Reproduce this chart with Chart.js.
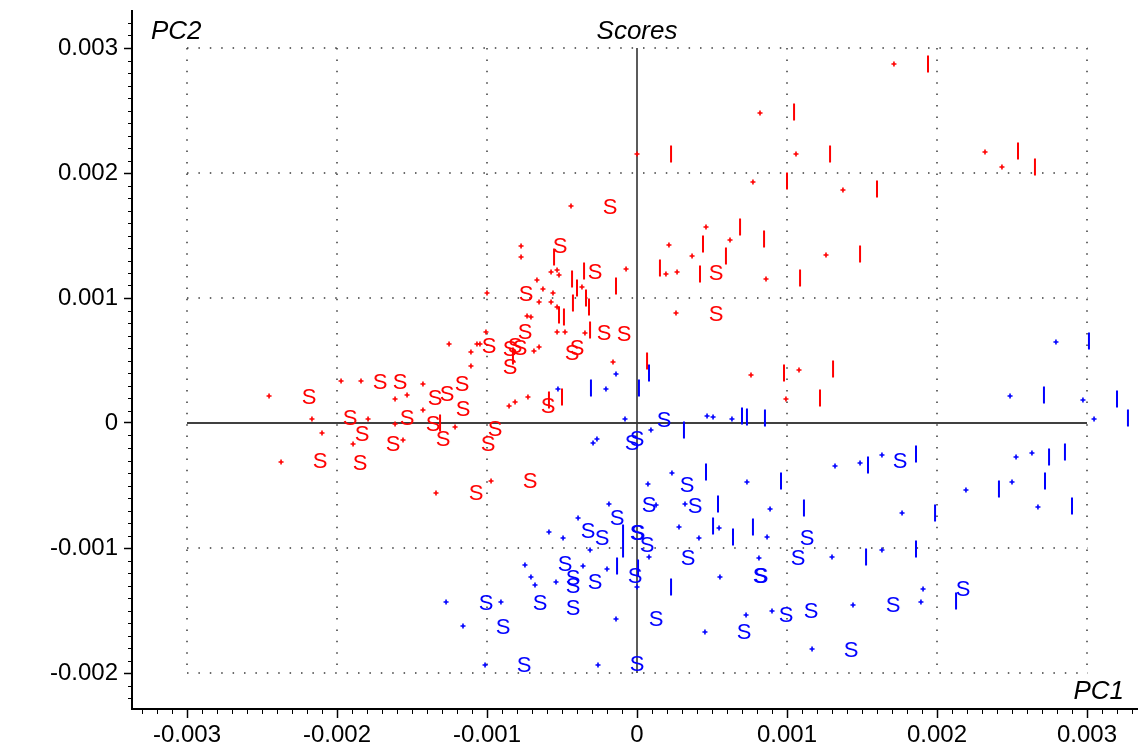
<!DOCTYPE html>
<html>
<head>
<meta charset="utf-8">
<title>Scores</title>
<script src="https://cdn.jsdelivr.net/npm/chart.js"></script>
<style>
  html, body { margin: 0; padding: 0; background: #ffffff; overflow: hidden; }
  #wrap { position: relative; width: 1138px; height: 749px; overflow: hidden; }
  #scores { display: block; }
</style>
</head>
<body>
<div id="wrap"><canvas id="scores"></canvas></div>
<script>
// axis ticks (PC1 along x, PC2 along y)
var xTicks = [-0.003, -0.002, -0.001, 0, 0.001, 0.002, 0.003];
var yTicks = [-0.002, -0.001, 0, 0.001, 0.002, 0.003];

// red group, "+" samples
var redPlus = [
  [0, 0.002152], [0.001713, 0.002872], [0.00082, 0.00248], [0.00106, 0.002152],
  [0.00232, 0.002168], [0.002433, 0.002048], [0.000773, 0.001928], [0.001373, 0.001864],
  [0.00046, 0.001568], [0.00062, 0.001464], [0.000213, 0.001424], [0.000367, 0.001336],
  [0.000193, 0.001192], [0.000267, 0.001208], [0.00086, 0.001152], [0.00126, 0.001344],
  [0.00026, 0.00088], [0.00076, 0.000384], [0.00108, 0.000424], [0.000993, 0.000192],
  [-0.00044, 0.001736], [-0.000773, 0.001416], [-0.000773, 0.001328], [-0.000573, 0.001208],
  [-0.000533, 0.001224], [-0.00052, 0.001184], [-0.000367, 0.001088], [-0.000073, 0.001232],
  [-0.000667, 0.001144], [-0.000627, 0.001072], [-0.00056, 0.00104], [-0.000653, 0.000968],
  [-0.000573, 0.000968], [-0.001, 0.00104], [-0.000533, 0.000928], [-0.000733, 0.000856],
  [-0.000707, 0.000848], [-0.000533, 0.000728], [-0.00048, 0.000728], [-0.000347, 0.00072],
  [-0.001007, 0.000728], [-0.001253, 0.000632], [-0.001067, 0.000632], [-0.001047, 0.000632],
  [-0.001107, 0.000568], [-0.000687, 0.000576], [-0.000653, 0.000608], [-0.001107, 0.000456],
  [-0.00016, 0.000488], [-0.000727, 0.000208], [-0.000813, 0.000168], [-0.000853, 0.000136],
  [-0.000973, -0.000464], [-0.00134, -0.00056], [-0.001427, 0.000312], [-0.001533, 0.000224],
  [-0.001427, 0.000104], [-0.001213, -0.000032], [-0.00156, -0.000136], [-0.002453, 0.000216],
  [-0.001973, 0.000336], [-0.00184, 0.000336], [-0.001613, 0.000192], [-0.002167, 0.000032],
  [-0.001793, 0.000032], [-0.001613, -0.000008], [-0.0021, -0.00008], [-0.001893, -0.000168],
  [-0.002373, -0.000312]
];

// red group, "S" samples
var redS = [
  [-0.00018, 0.001736], [-0.000513, 0.001424], [-0.00028, 0.001216], [-0.00074, 0.00104],
  [-0.000747, 0.000736], [-0.00022, 0.000728], [-0.000087, 0.00072], [0.000527, 0.001208],
  [0.000527, 0.00088], [-0.000987, 0.000624], [-0.000847, 0.0006], [-0.000813, 0.000624],
  [-0.00078, 0.000608], [-0.000847, 0.000456], [-0.000433, 0.000568], [-0.0004, 0.000608],
  [-0.000593, 0.000144], [-0.000947, -0.00004], [-0.000993, -0.00016], [-0.000713, -0.000456],
  [-0.001073, -0.000552], [-0.001167, 0.00032], [-0.001267, 0.00024], [-0.001347, 0.000208],
  [-0.00116, 0.00012], [-0.001533, 0.000048], [-0.00136, 0], [-0.001293, -0.00012],
  [-0.002187, 0.000216], [-0.001713, 0.000336], [-0.00158, 0.000336], [-0.001913, 0.000048],
  [-0.001833, -0.00008], [-0.001627, -0.00016], [-0.002113, -0.000296], [-0.001847, -0.000312]
];

// red group, "I" samples
var redI = [
  [0.00194, 0.002872], [0.001047, 0.002488], [0.000227, 0.002152], [0.001287, 0.002152],
  [0.00254, 0.002176], [0.002653, 0.002048], [0.001, 0.001936], [0.0016, 0.001872],
  [0.000687, 0.001568], [0.00044, 0.001432], [0.000847, 0.001472], [0.000593, 0.001336],
  [0.000153, 0.00124], [0.00042, 0.001192], [0.001087, 0.00116], [0.001487, 0.001352],
  [0.000067, 0.000496], [0.00098, 0.0004], [0.001307, 0.000432], [0.00122, 0.0002],
  [-0.000553, 0.001328], [-0.000433, 0.001152], [-0.0004, 0.00108], [-0.000353, 0.001216],
  [-0.00034, 0.001], [-0.00032, 0.000928], [-0.000427, 0.00096], [-0.00014, 0.001096],
  [-0.00052, 0.000864], [-0.000487, 0.000848], [-0.000313, 0.000744], [-0.000827, 0.000536],
  [-0.000587, 0.000184], [-0.0005, 0.000208], [-0.001313, 0]
];

// blue group, "+" samples
var bluePlus = [
  [0.002793, 0.000648], [0.002487, 0.000216], [0.002973, 0.000184], [0.003047, 0.000032],
  [0.000467, 0.000056], [0.000507, 0.000048], [0.000633, 0.000032], [0.000093, -0.000056],
  [0.002527, -0.000272], [0.002633, -0.00024], [0.001633, -0.000256], [0.001487, -0.00032],
  [0.00132, -0.000344], [0.002193, -0.000536], [0.0025, -0.000472], [0.002673, -0.000672],
  [0.000887, -0.000688], [0.001767, -0.00072], [0.000867, -0.000912], [0.0013, -0.001072],
  [0.001633, -0.001016], [0.001907, -0.001328], [0.001893, -0.001432], [0.0009, -0.001504],
  [0.00144, -0.001456], [0.001167, -0.001808], [0.000073, -0.000488], [0.000233, -0.0004],
  [0.000733, -0.000472], [0.00032, -0.000648], [0.00028, -0.000832], [0.000547, -0.00084],
  [0.000413, -0.00092], [0.00008, -0.001072], [0.000813, -0.00108], [0.000553, -0.001232],
  [0.000727, -0.001536], [0.000453, -0.001672], [0, -0.001312], [0.000127, -0.000656],
  [-0.000187, -0.000648], [-0.000393, -0.00076], [-0.000587, -0.000872], [-0.000493, -0.00092],
  [-0.000313, -0.001016], [-0.000747, -0.001136], [-0.00036, -0.001144], [-0.0002, -0.001168],
  [-0.000707, -0.001232], [-0.00068, -0.001296], [-0.00054, -0.001272], [-0.00014, -0.001568],
  [-0.000907, -0.001432], [-0.001273, -0.001432], [-0.00116, -0.001624], [-0.001013, -0.001936],
  [-0.00026, -0.001936], [-0.000293, -0.00016], [-0.000267, -0.000128], [-0.00008, 0.000032],
  [-0.000527, 0.000272], [-0.000207, 0.000272], [-0.00014, 0.000392]
];

// blue group, "S" samples (the two bold ones are doubled)
var blueS = [
  [0.00018, 0.000032], [0, -0.00012], [-0.000033, -0.000152], [0.001753, -0.000296],
  [0.000333, -0.000488], [0.00008, -0.000648], [0.000387, -0.000656], [0.001133, -0.000912],
  [0.001073, -0.001072], [0.000067, -0.000968], [0.00034, -0.001072], [-0.000013, -0.001216],
  [0.002173, -0.00132], [0.001707, -0.001448], [0.000993, -0.001528], [0.00116, -0.001496],
  [0.000713, -0.001664], [0.000127, -0.00156], [0.001427, -0.001808], [0, -0.00192],
  [-0.000133, -0.000752], [-0.000327, -0.000856], [-0.000233, -0.000912], [-0.00048, -0.00112],
  [-0.000427, -0.001232], [-0.000427, -0.001296], [-0.00028, -0.001264], [-0.000647, -0.001432],
  [-0.000427, -0.001472], [-0.001007, -0.001432], [-0.000893, -0.001624], [-0.000753, -0.001928],
  [0, -0.000872], [0.000007, -0.000872], [0.00082, -0.001216], [0.000827, -0.001216]
];

// blue group, "I" samples
var blueI = [
  [0.003013, 0.000656], [0.002713, 0.000224], [0.0032, 0.000192], [0.003273, 0.00004],
  [0.000313, -0.000056], [0.0007, 0.000056], [0.000733, 0.000048], [0.000853, 0.00004],
  [0.002747, -0.000272], [0.002853, -0.000232], [0.00186, -0.000248], [0.00154, -0.000336],
  [0.00046, -0.000392], [0.00096, -0.000464], [0.002413, -0.000528], [0.00272, -0.000464],
  [0.0029, -0.000664], [0.001113, -0.00068], [0.001987, -0.00072], [0.00054, -0.000648],
  [0.000507, -0.000824], [0.00064, -0.000912], [0.000773, -0.000832], [0.001527, -0.001072],
  [0.00186, -0.001008], [0.000007, -0.00116], [0.000227, -0.001312], [0.002127, -0.001424],
  [-0.000093, -0.00088], [-0.000093, -0.001008], [-0.000133, -0.001144], [-0.000307, 0.00028],
  [0.000013, 0.00028], [0.00008, 0.0004]
];

var RED = '#ff0000';
var BLUE = '#0000ff';
var FONT = '"Liberation Sans", Arial, sans-serif';

// turn [x, y] pairs into chart points
function pts(list) {
  return list.map(function (p) { return { x: p[0], y: p[1] }; });
}

// a small canvas with the letter S, used as the point style
function letterS(colour) {
  var c = document.createElement('canvas');
  c.width = 18;
  c.height = 22;
  var g = c.getContext('2d');
  g.fillStyle = colour;
  g.font = '22px ' + FONT;
  g.textAlign = 'center';
  g.textBaseline = 'alphabetic';
  g.fillText('S', 9, 19);
  return c;
}

function plusSet(data, colour) {
  return { data: pts(data), pointStyle: 'cross', radius: 2.5, borderWidth: 1.6,
           borderColor: colour, backgroundColor: colour };
}
function barSet(data, colour) {
  return { data: pts(data), pointStyle: 'line', rotation: 90, radius: 8.5, borderWidth: 2,
           borderColor: colour, backgroundColor: colour };
}
function sSet(data, colour) {
  return { data: pts(data), pointStyle: letterS(colour), radius: 8,
           borderColor: colour, backgroundColor: colour };
}

// dotted grid, zero lines, minor ticks and the corner titles
var frame = {
  id: 'frame',
  beforeDatasetsDraw: function (chart) {
    var ctx = chart.ctx;
    var xs = chart.scales.x, ys = chart.scales.y;
    var gx0 = xs.getPixelForValue(xTicks[0]), gx1 = xs.getPixelForValue(xTicks[xTicks.length - 1]);
    var gy0 = ys.getPixelForValue(yTicks[yTicks.length - 1]), gy1 = ys.getPixelForValue(yTicks[0]);
    ctx.save();
    ctx.strokeStyle = '#3a3a3a';
    ctx.lineWidth = 1.5;
    ctx.setLineDash([1.5, 9.9]);
    yTicks.forEach(function (v) {
      if (v === 0) return;
      var py = Math.round(ys.getPixelForValue(v));
      ctx.beginPath(); ctx.moveTo(gx0, py); ctx.lineTo(gx1 + 1, py); ctx.stroke();
    });
    xTicks.forEach(function (v) {
      if (v === 0) return;
      var px = Math.round(xs.getPixelForValue(v));
      ctx.beginPath(); ctx.moveTo(px, gy0); ctx.lineTo(px, gy1 + 1); ctx.stroke();
    });
    ctx.setLineDash([]);
    ctx.strokeStyle = '#000000';
    ctx.lineWidth = 1.6;
    var zx = xs.getPixelForValue(0), zy = ys.getPixelForValue(0);
    ctx.beginPath(); ctx.moveTo(gx0, zy); ctx.lineTo(gx1, zy); ctx.stroke();
    ctx.strokeStyle = '#333333';
    ctx.beginPath(); ctx.moveTo(zx, gy0); ctx.lineTo(zx, gy1); ctx.stroke();
    ctx.restore();
  },
  afterDraw: function (chart) {
    var ctx = chart.ctx;
    var xs = chart.scales.x, ys = chart.scales.y;
    var area = chart.chartArea;
    ctx.save();
    ctx.strokeStyle = '#000000';
    ctx.lineWidth = 1;
    // minor ticks every 0.0001
    for (var i = -40; i <= 40; i++) {
      if (i % 10 === 0) continue;
      var v = i / 10000;
      var px = xs.getPixelForValue(v);
      if (px > area.left + 2 && px < area.right) {
        ctx.beginPath(); ctx.moveTo(Math.round(px) + 0.5, area.bottom); ctx.lineTo(Math.round(px) + 0.5, area.bottom + 5); ctx.stroke();
      }
      var py = ys.getPixelForValue(v);
      if (py > area.top && py < area.bottom - 2) {
        ctx.beginPath(); ctx.moveTo(area.left, Math.round(py) + 0.5); ctx.lineTo(area.left - 4, Math.round(py) + 0.5); ctx.stroke();
      }
    }
    ctx.fillStyle = '#000000';
    ctx.font = 'italic 26px ' + FONT;
    ctx.textBaseline = 'alphabetic';
    ctx.textAlign = 'center';
    ctx.fillText('Scores', xs.getPixelForValue(0), 39);
    ctx.textAlign = 'left';
    ctx.fillText('PC2', 151, 39);
    ctx.textAlign = 'right';
    ctx.fillText('PC1', 1124, 699);
    ctx.restore();
  }
};

var ctx = document.getElementById('scores').getContext('2d');
var chart = new Chart(ctx, {
  type: 'scatter',
  data: {
    datasets: [
      plusSet(redPlus, RED),
      barSet(redI, RED),
      sSet(redS, RED),
      plusSet(bluePlus, BLUE),
      barSet(blueI, BLUE),
      sSet(blueS, BLUE)
    ]
  },
  options: {
    responsive: true,
    maintainAspectRatio: false,
    animation: false,
    events: [],
    layout: { autoPadding: false, padding: { top: 11, right: 0, bottom: 0, left: 0 } },
    plugins: { legend: { display: false }, tooltip: { enabled: false } },
    scales: {
      x: {
        type: 'linear',
        position: 'bottom',
        min: -0.0033667,
        max: 0.00334,
        afterBuildTicks: function (scale) { scale.ticks = xTicks.map(function (v) { return { value: v }; }); },
        afterFit: function (scale) { scale.height = 40; scale.paddingLeft = 0; scale.paddingRight = 0; },
        grid: { drawOnChartArea: false, drawTicks: true, tickLength: 9, tickColor: '#000000', tickWidth: 1.5 },
        border: { display: true, color: '#000000', width: 2 },
        ticks: {
          autoSkip: false, maxRotation: 0, minRotation: 0, padding: 3,
          color: '#000000', font: { family: FONT, size: 24 },
          callback: function (v) { return String(v); }
        }
      },
      y: {
        type: 'linear',
        position: 'left',
        min: -0.002288,
        max: 0.003296,
        afterBuildTicks: function (scale) { scale.ticks = yTicks.map(function (v) { return { value: v }; }); },
        afterFit: function (scale) { scale.width = 132; scale.paddingTop = 0; scale.paddingBottom = 0; },
        grid: { drawOnChartArea: false, drawTicks: true, tickLength: 8, tickColor: '#000000', tickWidth: 1.5 },
        border: { display: true, color: '#000000', width: 2 },
        ticks: {
          padding: 6,
          color: '#000000', font: { family: FONT, size: 24 },
          callback: function (v) { return String(v); }
        }
      }
    }
  },
  plugins: [frame]
});
</script>
</body>
</html>
